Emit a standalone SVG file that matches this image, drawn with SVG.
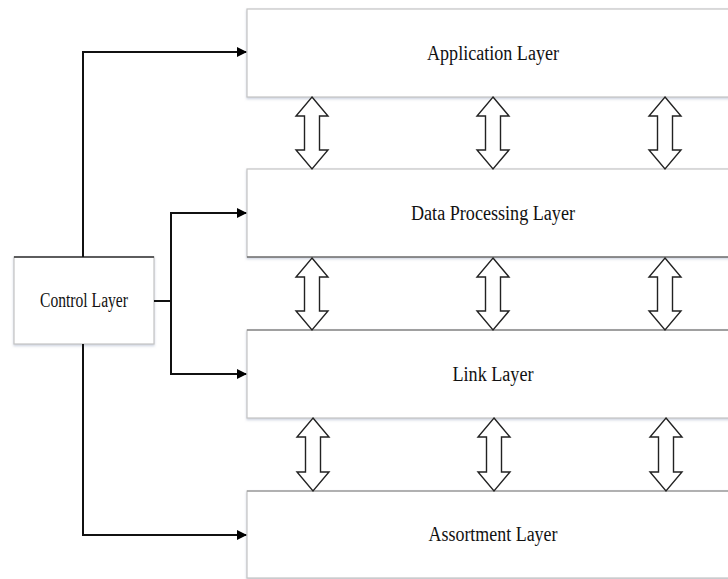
<svg xmlns="http://www.w3.org/2000/svg" width="728" height="579" viewBox="0 0 728 579">
<defs>
<marker id="ah" markerWidth="10" markerHeight="10" refX="9" refY="5" orient="auto" markerUnits="userSpaceOnUse">
<path d="M0,0 L10,5 L0,10 Z" fill="#000"/>
</marker>
<filter id="sh" x="-5%" y="-5%" width="110%" height="120%">
<feDropShadow dx="0" dy="1.5" stdDeviation="1" flood-color="#9aa6c0" flood-opacity="0.5"/>
</filter>
</defs>
<style>
.box{fill:#fff;stroke:#c4c4c4;stroke-width:1.2}
.lbl{font-family:"Liberation Serif","Times New Roman",serif;font-size:20px;fill:#111;text-anchor:middle}
.conn{fill:none;stroke:#111;stroke-width:2}
.dbl{fill:#fff;stroke:#222;stroke-width:1.4;stroke-linejoin:miter}
</style>
<rect width="728" height="579" fill="#fff"/>
<g id="application">
<rect class="box" x="247" y="9" width="500" height="88" filter="url(#sh)"/>
<text class="lbl" x="493" y="60" textLength="132" lengthAdjust="spacingAndGlyphs">Application Layer</text>
</g>
<g id="dataprocessing">
<rect class="box" x="247" y="169" width="500" height="88" filter="url(#sh)"/>
<line x1="247" y1="257" x2="728" y2="257" stroke="#444" stroke-width="1.2"/>
<text class="lbl" x="493" y="220" textLength="164" lengthAdjust="spacingAndGlyphs">Data Processing Layer</text>
</g>
<g id="link">
<rect class="box" x="247" y="330" width="500" height="88" filter="url(#sh)"/>
<line x1="247" y1="330" x2="728" y2="330" stroke="#666" stroke-width="1"/>
<text class="lbl" x="493" y="381" textLength="81" lengthAdjust="spacingAndGlyphs">Link Layer</text>
</g>
<g id="assortment">
<rect class="box" x="247" y="491" width="500" height="87" filter="url(#sh)"/>
<line x1="247" y1="491" x2="728" y2="491" stroke="#888" stroke-width="1"/>
<text class="lbl" x="493" y="541" textLength="129" lengthAdjust="spacingAndGlyphs">Assortment Layer</text>
</g>
<g id="control">
<rect class="box" x="14" y="257" width="140" height="87" filter="url(#sh)"/>
<line x1="14" y1="257" x2="154" y2="257" stroke="#333" stroke-width="1.4"/>
<text class="lbl" x="84" y="307" font-size="18" textLength="88" lengthAdjust="spacingAndGlyphs">Control Layer</text>
</g>
<g id="connectors">
<path class="conn" d="M83,257 V52 H246" marker-end="url(#ah)"/>
<path class="conn" d="M154,301 H171"/>
<path class="conn" d="M171,374 V213 H246" marker-end="url(#ah)"/>
<path class="conn" d="M171,300 V374 H246" marker-end="url(#ah)"/>
<path class="conn" d="M83,344 V535 H246" marker-end="url(#ah)"/>
<g id="double-arrows">
<path class="dbl" d="M312,97 L328,116 L319.5,116 L319.5,150 L328,150 L312,169 L296,150 L304.5,150 L304.5,116 L296,116 Z"/>
<path class="dbl" d="M493,97 L509,116 L500.5,116 L500.5,150 L509,150 L493,169 L477,150 L485.5,150 L485.5,116 L477,116 Z"/>
<path class="dbl" d="M665,97 L681,116 L672.5,116 L672.5,150 L681,150 L665,169 L649,150 L657.5,150 L657.5,116 L649,116 Z"/>
<path class="dbl" d="M312,258 L328,277 L319.5,277 L319.5,311 L328,311 L312,330 L296,311 L304.5,311 L304.5,277 L296,277 Z"/>
<path class="dbl" d="M493,258 L509,277 L500.5,277 L500.5,311 L509,311 L493,330 L477,311 L485.5,311 L485.5,277 L477,277 Z"/>
<path class="dbl" d="M665,258 L681,277 L672.5,277 L672.5,311 L681,311 L665,330 L649,311 L657.5,311 L657.5,277 L649,277 Z"/>
<path class="dbl" d="M313,418 L329,437 L320.5,437 L320.5,472 L329,472 L313,491 L297,472 L305.5,472 L305.5,437 L297,437 Z"/>
<path class="dbl" d="M494,418 L510,437 L501.5,437 L501.5,472 L510,472 L494,491 L478,472 L486.5,472 L486.5,437 L478,437 Z"/>
<path class="dbl" d="M666,418 L682,437 L673.5,437 L673.5,472 L682,472 L666,491 L650,472 L658.5,472 L658.5,437 L650,437 Z"/>
</g>
</g>
</svg>
